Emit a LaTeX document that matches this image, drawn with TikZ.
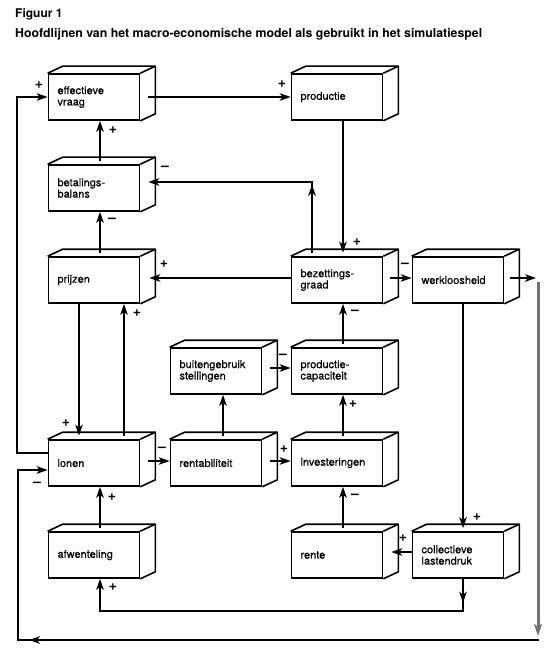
\documentclass[tikz,border=0pt]{standalone}
\usepackage{fontspec}
\setmainfont{TeX Gyre Heros}
\newfontfamily\boxfont[FakeBold=0.5]{TeX Gyre Heros}
\usetikzlibrary{calc,arrows.meta,decorations.markings}
\begin{document}
\begin{tikzpicture}[x=1pt,y=-1pt,
  cube/.style={draw, line width=1.6pt, rectangle, minimum height=46pt, text width=73pt,
    inner xsep=9pt, inner ysep=0pt, align=left, font=\boxfont\fontsize{11}{11.4}\selectfont},
  link/.style={line width=1.8pt, -{Stealth[length=11pt,width=7.5pt,inset=3pt]}},
  sgn/.style={font=\fontsize{14}{14}\selectfont\bfseries, inner sep=0pt},
  midarrow/.style={postaction={decorate}, decoration={markings,
    mark=at position #1 with {\arrow{Stealth[length=11pt,width=7.5pt,inset=3pt]}}}}]
\useasboundingbox (0,0) rectangle (549,652);
\fill[white] (0,0) rectangle (549,652);

% titles
\node[anchor=base west, inner sep=0pt, font=\fontsize{12}{12}\selectfont\bfseries] (t1) at (15,18) {Figuur 1};
\node[anchor=base west, inner sep=0pt, font=\fontsize{12.5}{12.5}\selectfont\bfseries] (t2) at (15,38)
  {\resizebox{467pt}{!}{Hoofdlijnen van het macro-economische model als gebruikt in het simulatiespel}};

% boxes
\node[cube] (ev)   at (94,97)  {effectieve\\vraag};
\node[cube] (prod) at (337,97) {productie};
\node[cube] (bb)   at (94,188) {betalings-\\balans};
\node[cube] (prij) at (94,280) {prijzen};
\node[cube] (bez)  at (337,280) {bezettings-\\graad};
\node[cube] (werk) at (458,280) {werkloosheid};
\node[cube] (bgs)  at (216,371) {buitengebruik\\stellingen};
\node[cube] (pc)   at (337,371) {productie-\\capaciteit};
\node[cube] (lon)  at (94,463) {lonen};
\node[cube] (rent) at (216,463) {rentabiliteit};
\node[cube] (inv)  at (337,463) {investeringen};
\node[cube] (afw)  at (94,555) {afwenteling};
\node[cube] (ren)  at (337,555) {rente};
\node[cube] (cl)   at (458,555) {collectieve\\lastendruk};

\foreach \n in {ev,prod,bb,prij,bez,werk,bgs,pc,lon,rent,inv,afw,ren,cl}{
  \draw[line width=1.6pt, line join=round] (\n.north west) -- ++(15,-7) -- ($(\n.north east)+(15,-7)$)
     -- ($(\n.south east)+(15,-7)$) -- (\n.south east);
  \draw[line width=1.6pt] (\n.north east) -- ++(15,-7);
}

% coordinates for free ends
\coordinate (wr) at (536,278);
\coordinate (gtop) at (538,282);
\coordinate (gbot) at (538,636);
\coordinate (bl) at (539,640);

% connectors
\draw[link] ($(ev.east)+(8,0)$) -- (prod.west);
\draw[link] ($(bb.north)+(6,-3.5)$) -- ($(ev.south)+(6,0)$);
\draw[link, midarrow=68pt] ($(bez.north)+(-25,-3.5)$) |- ($(bb.east)+(8,-6)$);
\draw[link] ($(prij.north)+(6,-3.5)$) -- ($(bb.south)+(6,0)$);
\draw[link] ($(bez.west)+(0,-2)$) -- ($(prij.east)+(9,-2)$);
\draw[link] ($(prod.south)+(6,0)$) -- ($(bez.north)+(6,-3.5)$);
\draw[link] ($(bez.east)+(7,-2)$) -- ($(werk.west)+(0,-2)$);
\draw[link] ($(pc.north)+(6,-3.5)$) -- ($(bez.south)+(6,0)$);
\draw[link] ($(werk.east)+(6,-2)$) -- (wr);
\draw[line width=3pt, black!55, -{Stealth[length=12pt,width=8pt,inset=3pt]}] (gtop) -- (gbot);
\draw[link, midarrow=510pt] (bl) -- (18,640) |- ($(lon.west)+(0,7)$);
\draw[link] ($(lon.west)+(0,-10)$) -- ($(lon.west)+(-31,-10)$) |- (ev.west);
\draw[link] ($(prij.south)+(-15,0)$) -- ($(lon.north)+(-15,-3.5)$);
\draw[link] ($(lon.north)+(30,-3.5)$) -- ($(prij.south)+(30,0)$);
\draw[link] ($(lon.east)+(8,-2)$) -- ($(rent.west)+(0,-2)$);
\draw[link] ($(rent.north)+(7,-3.5)$) -- ($(bgs.south)+(7,0)$);
\draw[link] ($(bgs.east)+(8,-3)$) -- ($(pc.west)+(0,-3)$);
\draw[link] ($(rent.east)+(8,-2)$) -- ($(inv.west)+(0,-2)$);
\draw[link] ($(inv.north)+(6,-3.5)$) -- ($(pc.south)+(6,0)$);
\draw[link] ($(ren.north)+(6,-3.5)$) -- ($(inv.south)+(6,0)$);
\draw[link] ($(werk.south)+(5,0)$) -- ($(cl.north)+(5,-3)$);
\draw[link] ($(cl.west)+(0,-3)$) -- ($(ren.east)+(8,-3)$);
\draw[link, midarrow=24pt] ($(cl.south)+(5,0)$) -- ($(cl.south)+(5,32)$) -| ($(afw.south)+(6,0)$);
\draw[link] ($(afw.north)+(6,-3.5)$) -- ($(lon.south)+(6,0)$);

% signs
\node[sgn] (s1)  at (282,84)  {+};
\node[sgn] (s2)  at (113,130) {+};
\node[sgn] (s3)  at (165,168) {\textendash};
\node[sgn] (s4)  at (112,220) {\textendash};
\node[sgn] (s5)  at (164,264) {+};
\node[sgn] (s6)  at (357,242) {+};
\node[sgn] (s7)  at (405,265) {\textendash};
\node[sgn] (s8)  at (355,312) {\textendash};
\node[sgn] (s9)  at (37,484)  {\textendash};
\node[sgn] (s10) at (39,85)   {+};
\node[sgn] (s11) at (66,423)  {+};
\node[sgn] (s12) at (137,313) {+};
\node[sgn] (s13) at (162,449) {\textendash};
\node[sgn] (s14) at (283,356) {\textendash};
\node[sgn] (s15) at (284,449) {+};
\node[sgn] (s16) at (353,404) {+};
\node[sgn] (s17) at (355,496) {\textendash};
\node[sgn] (s18) at (477,517) {+};
\node[sgn] (s19) at (403,538) {+};
\node[sgn] (s20) at (113,587) {+};
\node[sgn] (s21) at (112,497) {+};
\end{tikzpicture}
\end{document}
